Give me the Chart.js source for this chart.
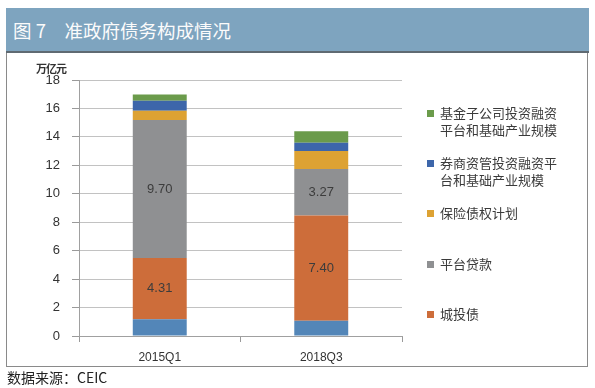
<!DOCTYPE html>
<html>
<head>
<meta charset="utf-8">
<script src="https://cdn.jsdelivr.net/npm/chart.js@4/dist/chart.umd.min.js"></script>
<style>
  html, body { margin:0; padding:0; background:#fff; }
  #wrap { position:relative; width:595px; height:388px; overflow:hidden; font-family:"Liberation Sans", Arial, "Noto Sans CJK SC", sans-serif; }
  #titlebar { position:absolute; left:6px; top:8px; width:583px; height:43px; background:#7EA4BF; border-bottom:2px solid #5f6a72; }
  #title { position:absolute; left:13px; top:19px; color:#fbfbfb; font-size:18.5px; font-family:"Noto Sans CJK SC", sans-serif; line-height:22px; white-space:pre; }
  #frame { position:absolute; left:6px; top:53px; width:580px; height:313px; border-left:1.5px solid #8a8a8a; border-right:1.5px solid #8a8a8a; border-bottom:1.5px solid #8a8a8a; }
  #unit { position:absolute; left:36px; top:62px; font-size:11px; font-weight:bold; color:#333; font-family:"Noto Sans CJK SC", sans-serif; line-height:13px; letter-spacing:-1px; }
  #source { position:absolute; left:7px; top:368px; font-size:14px; color:#222; font-family:"Noto Sans CJK SC", sans-serif; line-height:18px; }
  canvas { position:absolute; left:0; top:0; }
  .lg { position:absolute; left:427px; font-size:13px; color:#3a3a3a; font-family:"Noto Sans CJK SC", sans-serif; line-height:16.5px; }
  .lg .sw { position:absolute; left:0; width:7px; height:7px; }
  .lg .tx { position:absolute; left:13px; white-space:nowrap; }
</style>
</head>
<body>
<div id="wrap">
  <div id="titlebar"></div>
  <div id="title">图 7　准政府债务构成情况</div>
  <div id="frame"></div>
  <canvas id="c" width="595" height="388"></canvas>
  <div id="unit">万亿元</div>
  <div id="legend"></div>
  <div id="source">数据来源：CEIC</div>
</div>
<script>
const categories = ['2015Q1', '2018Q3'];
const baseSeries = [1.18, 1.07];
const chengtouzhai = [4.31, 7.40];
const pingtaiDaikuan = [9.70, 3.27];
const baoxianZhaiquan = [0.65, 1.27];
const quanshangZiguan = [0.70, 0.57];
const jijinZigongsi = [0.44, 0.82];
const yTickMax = 18;
const yTickStep = 2;

const seriesNames = ['', '城投债', '平台贷款', '保险债权计划', '券商资管投资融资平\n台和基础产业规模', '基金子公司投资融资\n平台和基础产业规模'];
const seriesColors = ['#5386B8', '#CD6D3A', '#8F9092', '#DDA233', '#3D66AA', '#6B9B4B'];
const seriesData = [baseSeries, chengtouzhai, pingtaiDaikuan, baoxianZhaiquan, quanshangZiguan, jijinZigongsi];
const labeledSeries = [1, 2];

const datasets = seriesData.map((d, i) => ({
  label: seriesNames[i],
  data: d,
  backgroundColor: seriesColors[i],
  borderWidth: 0,
  barPercentage: 0.334,
  categoryPercentage: 1.0
}));

const valueLabels = {
  id: 'valueLabels',
  afterDatasetsDraw(chart) {
    const ctx = chart.ctx;
    ctx.save();
    ctx.font = '13px "Liberation Sans", Arial, sans-serif';
    ctx.fillStyle = '#3c3c3c';
    ctx.textAlign = 'center';
    ctx.textBaseline = 'middle';
    labeledSeries.forEach(di => {
      const meta = chart.getDatasetMeta(di);
      meta.data.forEach((el, j) => {
        const p = el.getProps(['x', 'y', 'base'], true);
        ctx.fillText(chart.data.datasets[di].data[j].toFixed(2), p.x, (p.y + p.base) / 2);
      });
    });
    ctx.restore();
  }
};

new Chart(document.getElementById('c'), {
  type: 'bar',
  data: { labels: categories, datasets: datasets },
  options: {
    responsive: false,
    animation: false,
    devicePixelRatio: 1,
    layout: { padding: { left: 0, right: 193, top: 80, bottom: 22 } },
    plugins: { legend: { display: false }, tooltip: { enabled: false } },
    scales: {
      x: {
        stacked: true,
        afterFit(s) { s.height = 30; },
        grid: { display: true, drawOnChartArea: false, drawTicks: true, tickLength: 6, color: '#9a9a9a', offset: true },
        border: { display: true, color: '#a0a0a0', width: 1 },
        ticks: { color: '#333', font: { size: 12, family: '"Liberation Sans", Arial, sans-serif' }, padding: 8 }
      },
      y: {
        stacked: true,
        min: 0,
        max: yTickMax,
        afterFit(s) { s.width = 79; },
        grid: { color: '#c2c2c2', lineWidth: 1, drawTicks: true, tickLength: 7, tickColor: '#9a9a9a' },
        border: { display: true, color: '#a0a0a0', width: 1 },
        ticks: { stepSize: yTickStep, color: '#333', font: { size: 13, family: '"Liberation Sans", Arial, sans-serif' }, padding: 12 }
      }
    }
  },
  plugins: [valueLabels]
});

// legend (top to bottom: reverse order, skip unnamed base series)
const legendTops = [105, 155, 205, 256, 306];
const lg = document.getElementById('legend');
let k = 0;
for (let i = seriesData.length - 1; i >= 1; i--) {
  const item = document.createElement('div');
  item.className = 'lg';
  item.style.top = legendTops[k] + 'px';
  const sw = document.createElement('div');
  sw.className = 'sw';
  sw.style.background = seriesColors[i];
  sw.style.top = '5px';
  const tx = document.createElement('div');
  tx.className = 'tx';
  tx.innerText = seriesNames[i];
  item.appendChild(sw);
  item.appendChild(tx);
  lg.appendChild(item);
  k++;
}
</script>
</body>
</html>
